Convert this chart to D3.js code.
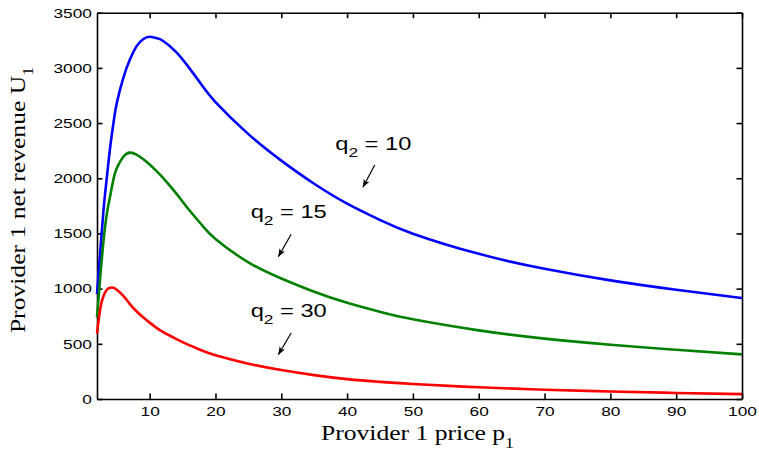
<!DOCTYPE html>
<html lang="en">
<head>
  <meta charset="UTF-8">
  <title>Provider 1 net revenue</title>
  <script src="https://d3js.org/d3.v7.min.js"></script>
  <style>
    body { margin: 0; background: white; }
    .axis text { font-family: "Liberation Sans", Arial, sans-serif; font-size: 13.5px; fill: black; }
    .axis path, .axis line { stroke: black; stroke-width: 1.6px; }
    .curve { fill: none; stroke-width: 2.6px; }
    .label { font-family: "Liberation Serif", "Times New Roman", serif; font-size: 20px; fill: black; }
    .note { font-family: "Liberation Sans", Arial, sans-serif; font-size: 18.5px; fill: black; }
  </style>
</head>
<body>
  <div id="chart"></div>
  <script>

    // DATA
    var prices = [2, 2.5, 3, 3.5, 4, 4.5, 5, 6, 7, 8, 9, 10, 11, 12, 14, 16, 18, 20,
                  25, 30, 35, 40, 45, 50, 60, 70, 80, 90, 100];

    var revenueQ10 = [950, 1340, 1720, 2010, 2280, 2500, 2680, 2910, 3075, 3195, 3260, 3282, 3270, 3246,
                      3145, 3000, 2838, 2690, 2400, 2160, 1950, 1770, 1622, 1498, 1315, 1180, 1075, 990, 915];

    var revenueQ15 = [740, 1110, 1440, 1680, 1840, 1990, 2090, 2195, 2232, 2215, 2175, 2125, 2068, 2006,
                      1865, 1712, 1572, 1450, 1238, 1092, 972, 872, 790, 722, 622, 547, 492, 446, 404];

    var revenueQ30 = [592, 820, 935, 990, 1008, 1008, 990, 935, 860, 795, 740, 692, 647, 608,
                      545, 488, 438, 396, 320, 262, 216, 180, 155, 136, 106, 84, 68, 55, 44];

    var xTicks = [10, 20, 30, 40, 50, 60, 70, 80, 90, 100];
    var yTicks = [0, 500, 1000, 1500, 2000, 2500, 3000, 3500];

    var series = [
      { q: "10", values: revenueQ10, color: "#0000ff" },
      { q: "15", values: revenueQ15, color: "#008000" },
      { q: "30", values: revenueQ30, color: "#ff0000" }
    ];

    // annotation anchors in data units: text start, arrow tail, arrow tip
    var notes = [
      { q: "10", text: [38.2, 2256], from: [44.2, 2120], to: [42.4, 1918] },
      { q: "15", text: [25.35, 1637], from: [31.5, 1492], to: [29.55, 1289] },
      { q: "30", text: [25.35, 740], from: [31.5, 598], to: [29.55, 401] }
    ];

    var W = 759, H = 459;
    var margin = { left: 97, top: 12.7, right: 17, bottom: 60 };
    var w = W - margin.left - margin.right;
    var h = H - margin.top - margin.bottom;
    var stretch = 1.28;   // text in the picture is drawn wider than our fonts

    var svg = d3.select("#chart").append("svg")
      .attr("width", W)
      .attr("height", H);

    var g = svg.append("g")
      .attr("transform", "translate(" + margin.left + "," + margin.top + ")");

    var x = d3.scaleLinear().domain([2, 100]).range([0, w]);
    var y = d3.scaleLinear().domain([0, 3500]).range([h, 0]);

    // AXES - box with inward ticks on all four sides
    var bottomAxis = g.append("g")
      .attr("class", "axis")
      .attr("transform", "translate(0," + h + ")")
      .call(d3.axisBottom(x).tickValues(xTicks).tickFormat(d3.format("d"))
        .tickSizeInner(-5.5).tickSizeOuter(0).tickPadding(7.5));
    bottomAxis.selectAll("text").attr("transform", "scale(" + stretch + ",1)");

    var leftAxis = g.append("g")
      .attr("class", "axis")
      .call(d3.axisLeft(y).tickValues(yTicks).tickFormat(d3.format("d"))
        .tickSizeInner(-5.5).tickSizeOuter(0).tickPadding(4));
    leftAxis.selectAll("text").attr("transform", "scale(" + stretch + ",1)");

    g.append("g")
      .attr("class", "axis")
      .call(d3.axisTop(x).tickValues(xTicks).tickFormat("").tickSizeInner(-5.5).tickSizeOuter(0));

    g.append("g")
      .attr("class", "axis")
      .attr("transform", "translate(" + w + ",0)")
      .call(d3.axisRight(y).tickValues(yTicks).tickFormat("").tickSizeInner(-5.5).tickSizeOuter(0));

    // CURVES
    var line = d3.line()
      .x(function(d, i) { return x(prices[i]); })
      .y(function(d) { return y(d); })
      .curve(d3.curveNatural);

    g.selectAll(".curve")
      .data(series)
      .enter().append("path")
      .attr("class", "curve")
      .attr("stroke", function(d) { return d.color; })
      .attr("d", function(d) { return line(d.values); });

    // ANNOTATIONS
    svg.append("defs").append("marker")
      .attr("id", "head")
      .attr("viewBox", "0 -5 10 10")
      .attr("refX", 10)
      .attr("refY", 0)
      .attr("markerUnits", "userSpaceOnUse")
      .attr("markerWidth", 8)
      .attr("markerHeight", 8)
      .attr("orient", "auto")
      .append("path")
      .attr("d", "M0,-4L10,0L0,4L2.5,0Z")
      .attr("fill", "black");

    var note = g.selectAll(".noteg")
      .data(notes)
      .enter().append("g")
      .attr("class", "noteg");

    var t = note.append("text")
      .attr("class", "note")
      .attr("transform", function(d) {
        return "translate(" + x(d.text[0]) + "," + y(d.text[1]) + ") scale(" + stretch + ",1)";
      });
    t.append("tspan").text("q");
    t.append("tspan").attr("font-size", "13.5px").attr("dy", 7).text("2");
    t.append("tspan").attr("dy", -7).text(function(d) { return " = " + d.q; });

    note.append("line")
      .attr("x1", function(d) { return x(d.from[0]); })
      .attr("y1", function(d) { return y(d.from[1]); })
      .attr("x2", function(d) { return x(d.to[0]); })
      .attr("y2", function(d) { return y(d.to[1]); })
      .attr("stroke", "black")
      .attr("stroke-width", 1.2)
      .attr("marker-end", "url(#head)");

    // AXIS LABELS
    var xl = svg.append("text")
      .attr("class", "label")
      .attr("text-anchor", "middle")
      .attr("transform", "translate(" + (margin.left + w / 2 - 2) + ",440) scale(" + stretch + ",1)");
    xl.append("tspan").text("Provider 1 price p");
    xl.append("tspan").attr("font-size", "14px").attr("dy", 8).text("1");

    var yl = svg.append("text")
      .attr("class", "label")
      .attr("text-anchor", "middle")
      .attr("transform", "translate(25,200) rotate(-90) scale(" + stretch + ",1)");
    yl.append("tspan").text("Provider 1 net revenue U");
    yl.append("tspan").attr("font-size", "14px").attr("dy", 8).text("1");

  </script>
</body>
</html>
